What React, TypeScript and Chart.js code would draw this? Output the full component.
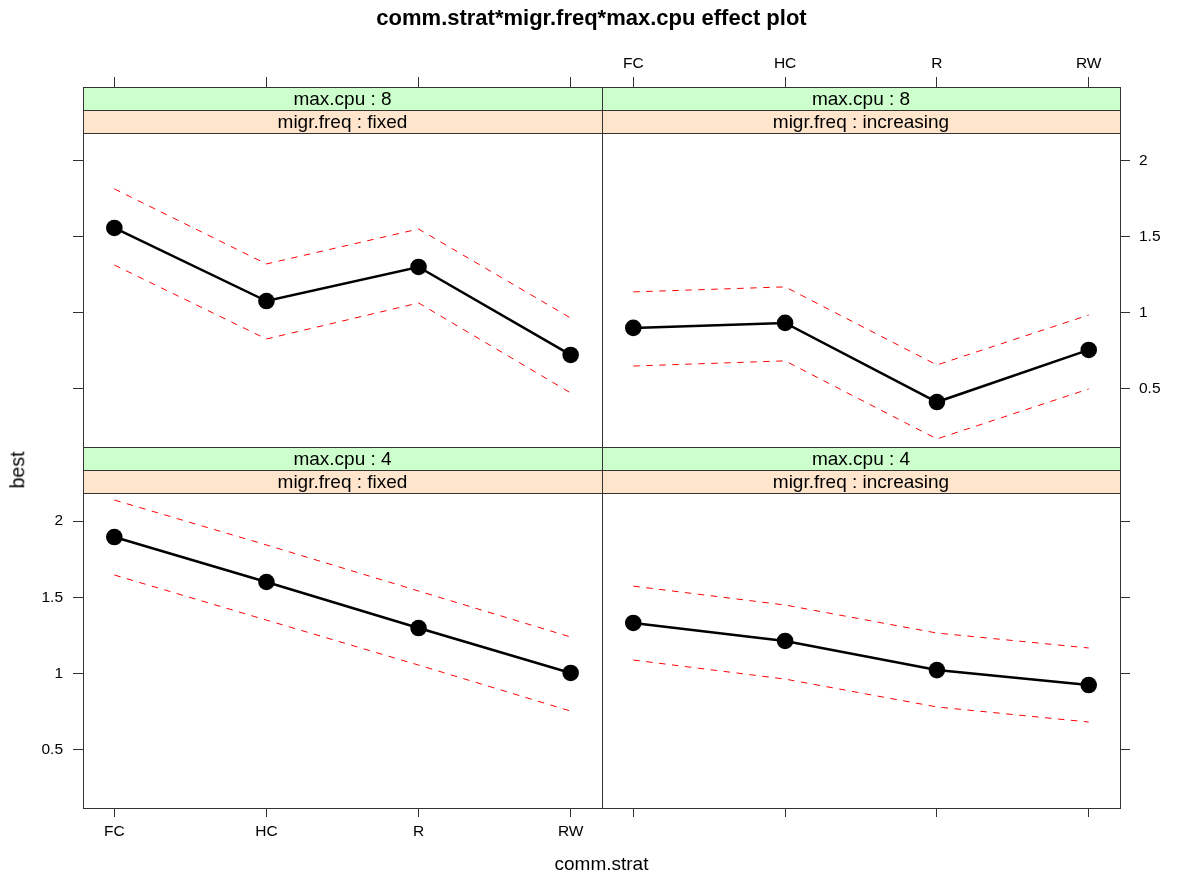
import React, { useEffect, useRef } from "react";
import { Chart, registerables } from "chart.js";

Chart.register(...registerables);

const FONT = "'Liberation Sans', Arial, Helvetica, sans-serif";

// ---- data ----
const categories = ["FC", "HC", "R", "RW"];
const yTickValues = [0.5, 1, 1.5, 2];

const titleText = "comm.strat*migr.freq*max.cpu effect plot";
const xTitle = "comm.strat";
const yTitle = "best";

// max.cpu : 8, migr.freq : fixed
const fitCpu8Fixed = [1.559, 1.078, 1.302, 0.723];
const upperCpu8Fixed = [1.816, 1.322, 1.552, 0.966];
const lowerCpu8Fixed = [1.315, 0.828, 1.065, 0.473];

// max.cpu : 8, migr.freq : increasing
const fitCpu8Incr = [0.901, 0.934, 0.413, 0.756];
const upperCpu8Incr = [1.138, 1.171, 0.657, 0.986];
const lowerCpu8Incr = [0.65, 0.684, 0.17, 0.499];

// max.cpu : 4, migr.freq : fixed
const fitCpu4Fixed = [1.895, 1.6, 1.298, 1.003];
const upperCpu4Fixed = [2.138, 1.843, 1.541, 1.239];
const lowerCpu4Fixed = [1.646, 1.35, 1.055, 0.753];

// max.cpu : 4, migr.freq : increasing
const fitCpu4Incr = [1.331, 1.213, 1.022, 0.924];
const upperCpu4Incr = [1.573, 1.449, 1.265, 1.167];
const lowerCpu4Incr = [1.088, 0.963, 0.78, 0.681];

// axis limits
const Y_LIM = [0.117, 2.184];
const X_PAD = 0.206;

// ---- layout (pixels) ----
const W = 1183;
const H = 878;
const COL_X = [
  [83, 602],
  [602, 1120],
];
const ROW_Y = [
  [87, 447],
  [447, 808],
];
const STRIP_H = 23;
const TICK_LEN = 10;
const TICK_LEN_BOTTOM = 9;
const X_AXIS_H = 40; // reserved band for x axis (ticks + labels)
const Y_AXIS_W = 60; // reserved band for y axis (ticks + labels)

type Panel = {
  row: number;
  col: number;
  outer: string;
  inner: string;
  fit: number[];
  upper: number[];
  lower: number[];
};

const panels: Panel[] = [
  { row: 0, col: 0, outer: "max.cpu : 8", inner: "migr.freq : fixed", fit: fitCpu8Fixed, upper: upperCpu8Fixed, lower: lowerCpu8Fixed },
  { row: 0, col: 1, outer: "max.cpu : 8", inner: "migr.freq : increasing", fit: fitCpu8Incr, upper: upperCpu8Incr, lower: lowerCpu8Incr },
  { row: 1, col: 0, outer: "max.cpu : 4", inner: "migr.freq : fixed", fit: fitCpu4Fixed, upper: upperCpu4Fixed, lower: lowerCpu4Fixed },
  { row: 1, col: 1, outer: "max.cpu : 4", inner: "migr.freq : increasing", fit: fitCpu4Incr, upper: upperCpu4Incr, lower: lowerCpu4Incr },
];

const toPoints = (vals: number[]) => vals.map((v, i) => ({ x: i + 1, y: v }));

const stripPlugin = {
  id: "latticeStrips",
  afterDraw(chart: any, _args: any, opts: any) {
    const { ctx, chartArea: a } = chart;
    ctx.save();
    const l = a.left + 0.5;
    const w = a.right - a.left;
    const t = a.top + 0.5;
    ctx.fillStyle = "#ccffcc";
    ctx.fillRect(a.left, a.top, w, STRIP_H);
    ctx.fillStyle = "#ffe5cc";
    ctx.fillRect(a.left, a.top + STRIP_H, w, STRIP_H);
    ctx.strokeStyle = "#333333";
    ctx.lineWidth = 1;
    ctx.strokeRect(l, t, w, STRIP_H);
    ctx.strokeRect(l, t + STRIP_H, w, STRIP_H);
    // panel border
    ctx.strokeRect(l, t, w, a.bottom - a.top);
    // strip texts
    ctx.fillStyle = "#000";
    ctx.font = `19px ${FONT}`;
    ctx.textAlign = "center";
    ctx.textBaseline = "alphabetic";
    const cx = (a.left + a.right) / 2;
    const cap = 0.716 * 19;
    ctx.fillText(opts.outer, cx, a.top + STRIP_H / 2 + cap / 2);
    ctx.fillText(opts.inner, cx, a.top + STRIP_H * 1.5 + cap / 2);
    ctx.restore();
  },
};

function makeConfig(p: Panel): any {
  const [x0, x1] = COL_X[p.col];
  const [y0, y1] = ROW_Y[p.row];
  const xPos = p.row === 0 ? "top" : "bottom";
  const yPos = p.col === 0 ? "left" : "right";
  const showLabels = p.row !== p.col;
  const xTickLen = p.row === 0 ? TICK_LEN : TICK_LEN_BOTTOM;

  // extend y max so that the strip band sits above the data region
  const areaH = y1 - y0;
  const dataH = areaH - 2 * STRIP_H;
  const yMax = Y_LIM[0] + ((Y_LIM[1] - Y_LIM[0]) * areaH) / dataH;

  const padding = {
    left: p.col === 0 ? x0 - Y_AXIS_W : x0,
    right: p.col === 0 ? W - x1 : W - x1 - Y_AXIS_W,
    top: p.row === 0 ? y0 - X_AXIS_H : y0,
    bottom: p.row === 0 ? H - y1 : H - y1 - X_AXIS_H,
  };

  const ciStyle = {
    borderColor: "#ff0000",
    borderWidth: 1,
    borderDash: [6.5, 6.5],
    pointRadius: 0,
    fill: false,
    tension: 0,
  };

  return {
    type: "line",
    data: {
      datasets: [
        { ...ciStyle, label: "upper", data: toPoints(p.upper) },
        { ...ciStyle, label: "lower", data: toPoints(p.lower) },
        {
          label: "fit",
          data: toPoints(p.fit),
          borderColor: "#000",
          borderWidth: 2.5,
          pointRadius: 8.3,
          pointBackgroundColor: "#000",
          pointBorderColor: "#000",
          pointBorderWidth: 0,
          fill: false,
          tension: 0,
        },
      ],
    },
    options: {
      animation: false,
      responsive: false,
      devicePixelRatio: 1,
      events: [],
      layout: { padding, autoPadding: false },
      plugins: {
        legend: { display: false },
        tooltip: { enabled: false },
        title: { display: false },
        latticeStrips: { outer: p.outer, inner: p.inner },
      },
      scales: {
        x: {
          type: "linear",
          position: xPos,
          min: 1 - X_PAD,
          max: categories.length + X_PAD,
          afterBuildTicks: (s: any) => {
            s.ticks = categories.map((_, i) => ({ value: i + 1 }));
          },
          afterFit: (s: any) => {
            s.height = X_AXIS_H;
          },
          grid: {
            display: true,
            drawOnChartArea: false,
            drawTicks: true,
            tickLength: xTickLen,
            color: "#333333",
            lineWidth: 1,
          },
          border: { display: false },
          ticks: {
            display: showLabels,
            autoSkip: false,
            maxRotation: 0,
            padding: p.row === 0 ? 4 : 5,
            color: "#000",
            font: { family: FONT, size: 15.5 },
            callback: (v: any) => categories[Math.round(v) - 1] ?? "",
          },
        },
        y: {
          type: "linear",
          position: yPos,
          min: Y_LIM[0],
          max: yMax,
          afterBuildTicks: (s: any) => {
            s.ticks = yTickValues.map((v) => ({ value: v }));
          },
          afterFit: (s: any) => {
            s.width = Y_AXIS_W;
          },
          grid: {
            display: true,
            drawOnChartArea: false,
            drawTicks: true,
            tickLength: TICK_LEN,
            color: "#333333",
            lineWidth: 1,
          },
          border: { display: false },
          ticks: {
            display: showLabels,
            autoSkip: false,
            padding: p.col === 0 ? 10 : 9,
            color: "#000",
            font: { family: FONT, size: 15.5 },
            callback: (v: any) => String(v),
          },
        },
      },
    },
    plugins: [stripPlugin],
  };
}

export default function App() {
  const refs = [
    useRef<HTMLCanvasElement>(null),
    useRef<HTMLCanvasElement>(null),
    useRef<HTMLCanvasElement>(null),
    useRef<HTMLCanvasElement>(null),
  ];

  useEffect(() => {
    const charts: Chart[] = [];
    panels.forEach((p, i) => {
      const c = refs[i].current;
      if (c) charts.push(new Chart(c, makeConfig(p)));
    });
    return () => charts.forEach((ch) => ch.destroy());
  }, []);

  const canvasStyle: React.CSSProperties = {
    position: "absolute",
    left: 0,
    top: 0,
    width: W,
    height: H,
  };

  return (
    <div
      style={{
        position: "absolute",
        left: 0,
        top: 0,
        width: W,
        height: H,
        background: "#fff",
        fontFamily: FONT,
        color: "#000",
        overflow: "hidden",
      }}
    >
      {panels.map((_, i) => (
        <canvas key={i} ref={refs[i]} width={W} height={H} style={canvasStyle} />
      ))}
      <div
        style={{
          position: "absolute",
          left: 0,
          width: W,
          top: 7,
          textAlign: "center",
          fontSize: 22,
          lineHeight: "22px",
          fontWeight: "bold",
          whiteSpace: "nowrap",
        }}
      >
        {titleText}
      </div>
      <div
        style={{
          position: "absolute",
          left: COL_X[0][0],
          width: COL_X[1][1] - COL_X[0][0],
          top: 854,
          textAlign: "center",
          fontSize: 19,
          lineHeight: "19px",
          whiteSpace: "nowrap",
        }}
      >
        {xTitle}
      </div>
      <div
        style={{
          position: "absolute",
          left: 18,
          top: 470,
          fontSize: 19.5,
          lineHeight: "19.5px",
          whiteSpace: "nowrap",
          transform: "translate(-50%, -50%) rotate(-90deg)",
        }}
      >
        {yTitle}
      </div>
    </div>
  );
}
